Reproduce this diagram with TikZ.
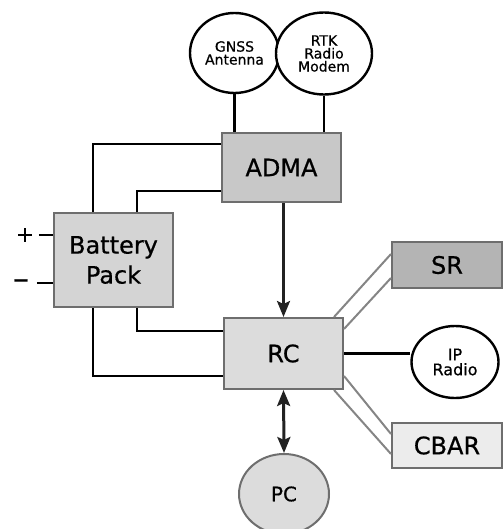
\documentclass[tikz,border=0pt]{standalone}
\usepackage{fontspec}
\setmainfont{DejaVu Sans}[FakeBold=0.6]
\usetikzlibrary{calc}
\usetikzlibrary{shapes.geometric}
\usetikzlibrary{arrows.meta}
\definecolor{boxgray}{HTML}{6E6E6E}
\definecolor{linkgray}{HTML}{858585}
\definecolor{admafill}{HTML}{C8C8C8}
\definecolor{batfill}{HTML}{D4D4D4}
\definecolor{rcfill}{HTML}{DCDCDC}
\definecolor{srfill}{HTML}{B4B4B4}
\definecolor{cbarfill}{HTML}{ECECEC}
\definecolor{tipblack}{HTML}{222222}

\begin{document}
\begin{tikzpicture}[x=1pt,y=-1pt,box/.style={rectangle,draw=boxgray,line width=2pt,inner sep=0},disc/.style={ellipse,draw,fill=white,line width=2.4pt,inner sep=0},wire/.style={draw,line width=2.5pt},link/.style={draw=linkgray,line width=2pt},head/.tip={Stealth[length=16pt,width=13pt,inset=3pt]},big/.style={font=\fontsize{24}{30}\selectfont,align=center},small/.style={font=\fontsize{14}{13}\selectfont,align=center}]
  \useasboundingbox (0,0) rectangle (503,529);
  \node[disc,minimum width=89pt,minimum height=80pt,small] (n1) at (234.5,53) {GNSS\\Antenna};
  \node[disc,minimum width=96pt,minimum height=82pt,small] (n2) at (324,53.5) {RTK\\Radio\\Modem};
  \node[box,fill=admafill,minimum width=119pt,minimum height=69pt,big] (n3) at (281.5,167.5) {ADMA};
  \node[box,fill=batfill,minimum width=119pt,minimum height=94pt,big] (n4) at (113.5,260) {Battery\\Pack};
  \node[box,fill=rcfill,minimum width=119pt,minimum height=71pt,big] (n5) at (283.5,353.5) {RC};
  \node[box,fill=srfill,minimum width=110pt,minimum height=46pt,big] (n6) at (447,265) {SR};
  \node[disc,minimum width=87pt,minimum height=72pt,font=\fontsize{16}{15}\selectfont,align=center] (n7) at (455,362) {IP\\Radio};
  \node[box,fill=cbarfill,minimum width=110pt,minimum height=45pt,big] (n8) at (447,445.5) {CBAR};
  \node[ellipse,draw=boxgray,fill=rcfill,line width=2pt,minimum width=90pt,minimum height=80pt,inner sep=0,font=\fontsize{20}{20}\selectfont] (n9) at (284,494) {PC};
  \node[font=\fontsize{22}{22}\selectfont] (n10) at (25,235) {+};
  \node[font=\fontsize{20}{20}\selectfont\bfseries] (n11) at (21,283) {−};
  \path[wire] (n1.south) -- (n1.south |- n3.north);
  \path[wire] (n2.south) -- (n2.south |- n3.north);
  \path[wire] ([xshift=-20.5pt]n4.north) |- ([yshift=-12pt]n3.north west);
  \path[wire] ([xshift=23.5pt]n4.north) |- ([yshift=12pt]n3.south west);
  \path[wire] ([xshift=23.5pt]n4.south) |- ([yshift=-14pt]n5.north west);
  \path[wire] ([xshift=-20.5pt]n4.south) |- ([yshift=14pt]n5.south west);
  \path[wire] ([xshift=1pt]n10.east) -- (n10.east -| n4.west);
  \path[wire] ([xshift=4pt]n11.east) -- (n11.east -| n4.west);
  \path[wire,draw=tipblack,-head] (n3.south -| n5.north) -- (n5.north);
  \path[wire,draw=tipblack,line width=3pt,head-head] (n5.south) -- (n9.north);
  \path[wire] (n5.east) -- (n5.east -| n7.west);
  \path[link] ([xshift=-10pt]n5.north east) -- ([yshift=-13pt]n6.north west);
  \path[link] ([yshift=-12pt]n5.north east) -- ([yshift=11pt]n6.south west);
  \path[link] ([yshift=14pt]n5.south east) -- ([yshift=-12pt]n8.north west);
  \path[link] ([xshift=-10pt]n5.south east) -- ([yshift=15pt]n8.south west);
\end{tikzpicture}
\end{document}
